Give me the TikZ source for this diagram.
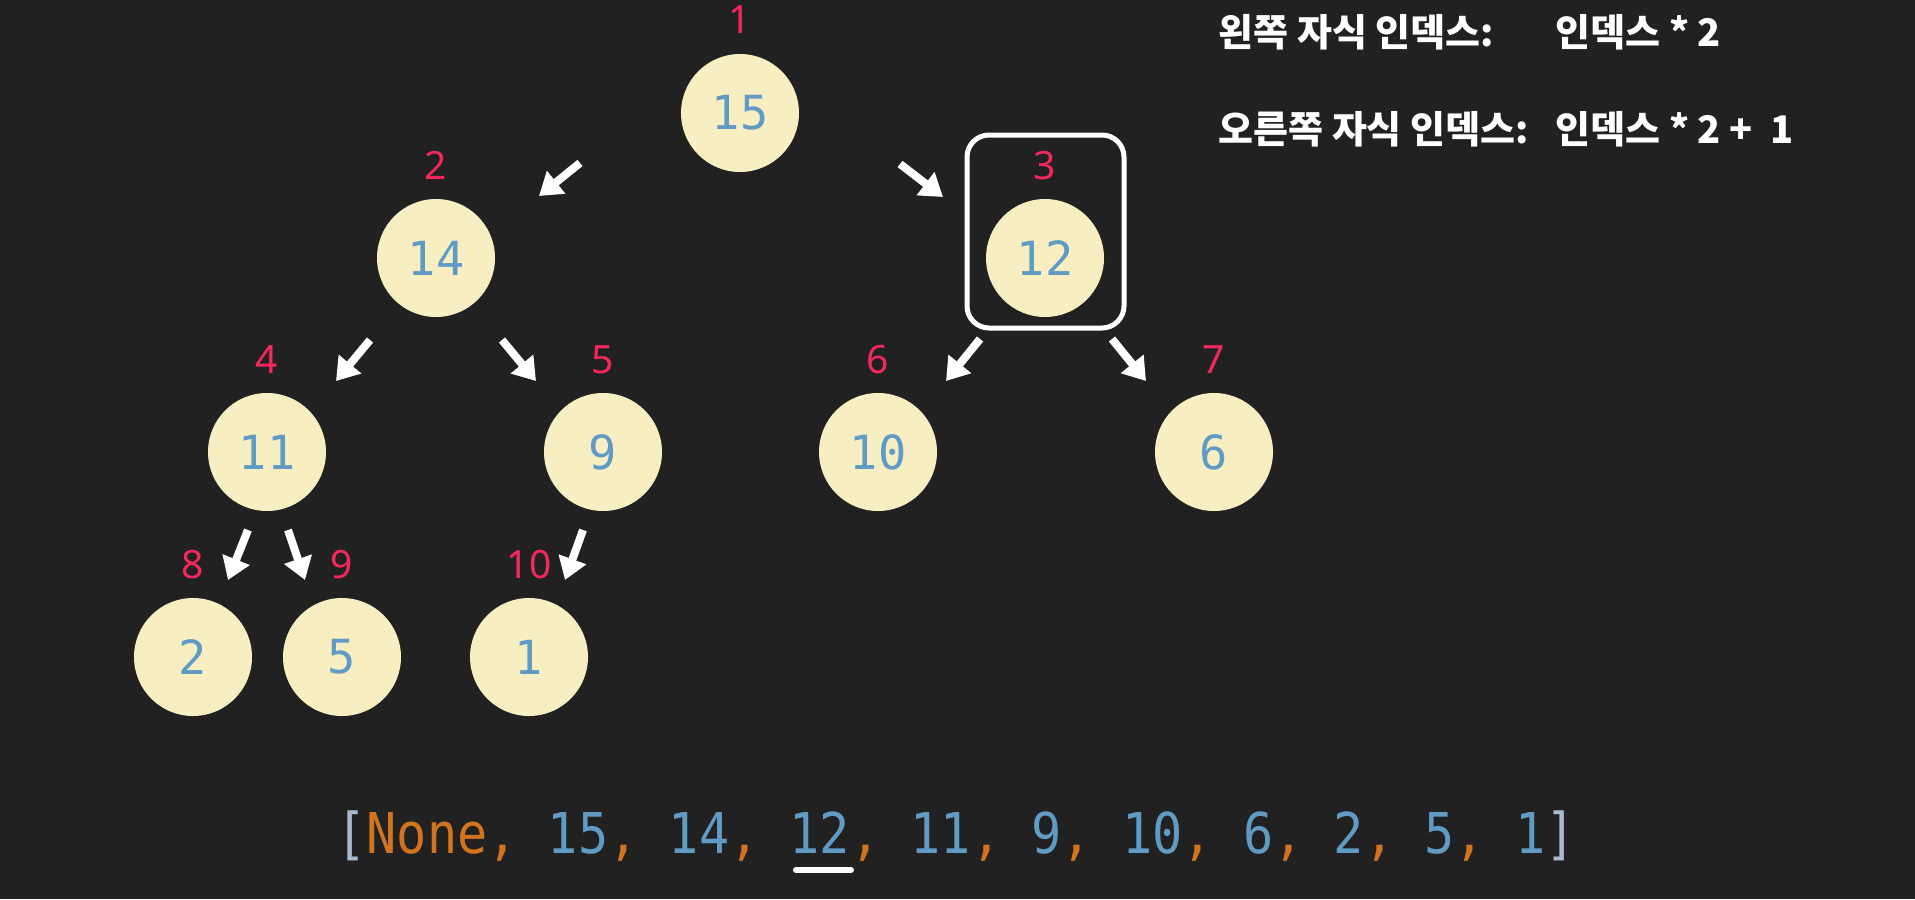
\documentclass[tikz,border=0pt]{standalone}
\usepackage{fontspec}
\newfontfamily\codefont{DejaVu Sans Mono}[WordSpace={1,0,0}]
\newfontfamily\idxfont{Noto Sans}
\newfontfamily\krfont{Noto Sans CJK KR}
\usetikzlibrary{arrows.meta}
\definecolor{bg}{RGB}{33,33,33}
\definecolor{cream}{RGB}{247,238,194}
\definecolor{valblue}{RGB}{95,155,197}
\definecolor{idxred}{RGB}{245,40,92}
\definecolor{kworange}{RGB}{210,115,30}
\definecolor{brkgray}{RGB}{170,186,206}
\newcommand\heapval[1]{\textcolor{valblue}{#1}\textcolor{kworange}{,}}

\begin{document}
\begin{tikzpicture}[x=0.5pt,y=-0.5pt,
  heapnode/.style={circle,fill=cream,inner sep=0pt,minimum size=59pt,text=valblue,
    font=\codefont\fontsize{23.5pt}{23.5pt}\selectfont},
  idx/.style={anchor=base,text=idxred,inner sep=0pt,%index number above a node
    font=\idxfont\bfseries\fontsize{19.5pt}{19.5pt}\selectfont},
  arr/.style={white,line width=4pt,-{Triangle[length=11pt,width=14pt]}},
  rule/.style={anchor=base west,text=white,inner sep=0pt,
    font=\krfont\bfseries\fontsize{19pt}{19pt}\selectfont}
  ]
\useasboundingbox[fill=bg] (0,0) rectangle (1915,899);
% heap as a tree
\node[heapnode] (n15) at (740,113) {15};
\node[heapnode] (n14) at (436,258) {14};
\node[heapnode] (n12) at (1045,258) {12};
\node[heapnode] (n11) at (267,452) {11};
\node[heapnode] (n9)  at (603,452) {9};
\node[heapnode] (n10) at (878,452) {10};
\node[heapnode] (n6)  at (1214,452) {6};
\node[heapnode] (n2)  at (193,657) {2};
\node[heapnode] (n5)  at (342,657) {5};
\node[heapnode] (n1)  at (529,657) {1};
\foreach \n/\i in {15/1,14/2,12/3,11/4,9/5,10/6,6/7,2/8,5/9,1/10}
  \node[idx] (i\i) at ([shift={(0,-79)}]n\n.center) {\i};
\draw[arr] ([shift={(-160,50)}]n15.center) -- ([shift={(103,-62)}]n14.center);
\draw[arr] ([shift={(160,51)}]n15.center) -- ([shift={(-102,-61)}]n12.center);
\draw[arr] ([shift={(-66,82)}]n14.center) -- ([shift={(69,-71)}]n11.center);
\draw[arr] ([shift={(66,82)}]n14.center) -- ([shift={(-67,-71)}]n9.center);
\draw[arr] ([shift={(-65,81)}]n12.center) -- ([shift={(68,-71)}]n10.center);
\draw[arr] ([shift={(67,81)}]n12.center) -- ([shift={(-68,-71)}]n6.center);
\draw[arr] ([shift={(-19,78)}]n11.center) -- ([shift={(35,-77)}]n2.center);
\draw[arr] ([shift={(21,78)}]n11.center) -- ([shift={(-37,-77)}]n5.center);
\draw[arr] ([shift={(-20,78)}]n9.center) -- ([shift={(36,-77)}]n1.center);
% box round node 3
\draw[white,line width=2.5pt,rounded corners=11pt]
  ([shift={(-78,-123)}]n12.center) rectangle ([shift={(79,70)}]n12.center);
% child index rules
\node[rule] (left)   at (1218,47)  {왼쪽 자식 인덱스:};
\node[rule] (lefteq) at (1555,47)  {인덱스 * 2};
\node[rule] (right)  at (1218,143) {오른쪽 자식 인덱스:};
\node[rule] (righteq) at (1555,143) {인덱스 * 2 + \ 1};
% the list
\node[anchor=base,inner sep=0pt,yscale=1.12,transform shape,
  font=\codefont\fontsize{25.1pt}{25.1pt}\selectfont] (heaplist) at (956,853)
  {\textcolor{brkgray}{[}\textcolor{kworange}{None,} \heapval{15} \heapval{14} \heapval{12} \heapval{11} \heapval{9} \heapval{10} \heapval{6} \heapval{2} \heapval{5} \textcolor{valblue}{1}\textcolor{brkgray}{]}};
\draw[white,line width=3pt,line cap=round] (796,870) -- (851,870);
\end{tikzpicture}
\end{document}
